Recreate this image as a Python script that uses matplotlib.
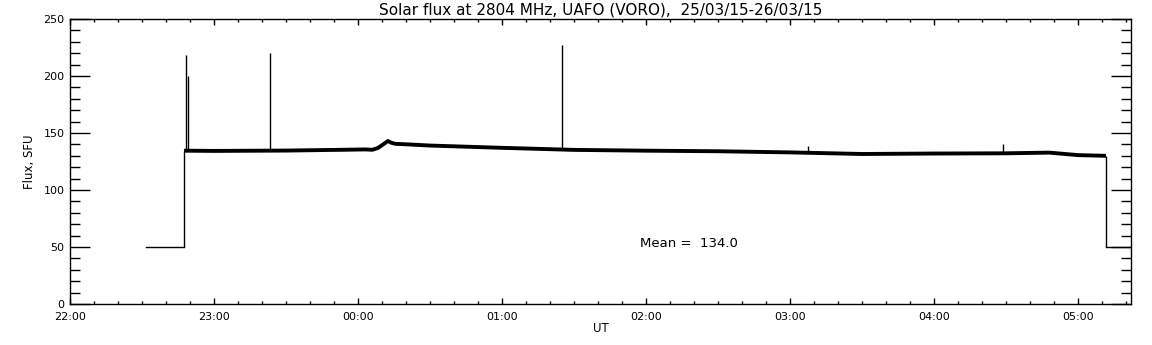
import matplotlib

matplotlib.use("Agg")
import matplotlib.pyplot as plt
from matplotlib.ticker import MultipleLocator

# time in hours since 22:00 UT
tick_hours = [0, 1, 2, 3, 4, 5, 6, 7]
tick_labels = ["22:00", "23:00", "00:00", "01:00", "02:00", "03:00", "04:00", "05:00"]

# calibration level before / after observation
pre_t = [0.528, 0.792]
pre_flux = [50, 50]
post_t = [7.194, 7.368]
post_flux = [50, 50]

# quiet sun flux
sun_t = [0.792, 1.0, 1.5, 1.9, 2.05, 2.1, 2.14, 2.18, 2.208, 2.23, 2.26, 2.35,
         2.5, 3.0, 3.5, 4.0, 4.5, 5.0, 5.5, 6.0, 6.5, 6.8, 7.0, 7.194]
sun_flux = [134.5, 134.3, 134.6, 135.3, 135.6, 135.3, 137.0, 140.5, 143.0, 141.5, 140.5, 140.0,
            139.0, 137.0, 135.2, 134.5, 134.0, 133.0, 131.6, 132.0, 132.2, 132.8, 130.6, 130.0]

# interference spikes
spike_t = [0.806, 0.82, 1.389, 3.417, 5.125, 6.48]
spike_base = [134.5, 134.5, 134.5, 136.0, 133.0, 132.0]
spike_top = [218, 200, 220, 227, 139, 140]

mean_flux = 134.0

fig = plt.figure(figsize=(11.52, 3.45), dpi=100)
ax = fig.add_axes([0.0608, 0.1188, 0.9210, 0.8261])

ax.plot(pre_t, pre_flux, color="black", lw=1.0)
ax.plot(post_t, post_flux, color="black", lw=1.0)
ax.vlines([pre_t[-1], post_t[0]], [pre_flux[-1], post_flux[0]],
          [sun_flux[0], sun_flux[-1]], color="black", lw=1.0)
ax.plot(sun_t, sun_flux, color="black", lw=2.8, solid_capstyle="butt")
ax.vlines(spike_t, spike_base, spike_top, color="black", lw=1.0)

ax.set_xlim(0, 7.368)
ax.set_ylim(0, 250)
ax.set_xticks(tick_hours)
ax.set_xticklabels(tick_labels)
ax.xaxis.set_minor_locator(MultipleLocator(1 / 6))
ax.yaxis.set_major_locator(MultipleLocator(50))
ax.yaxis.set_minor_locator(MultipleLocator(10))

ax.tick_params(axis="both", which="both", direction="in", top=True, right=True,
               labelsize=8, width=1.0, color="black")
ax.tick_params(axis="y", which="major", length=14.5, pad=4)
ax.tick_params(axis="y", which="minor", length=7.2)
ax.tick_params(axis="x", which="major", length=4, pad=6)
ax.tick_params(axis="x", which="minor", length=2.2)
for s in ax.spines.values():
    s.set_linewidth(1.0)

ax.set_title("Solar flux at 2804 MHz, UAFO (VORO),  25/03/15-26/03/15",
             fontsize=11, pad=3)
ax.set_ylabel("Flux, SFU", fontsize=8.5, labelpad=5)
ax.set_xlabel("UT", fontsize=8.5, labelpad=0)
ax.text(3.958, 53.5, "Mean =  %.1f" % mean_flux, fontsize=9.5, va="center", ha="left")

fig.savefig("out.png", dpi=100)
